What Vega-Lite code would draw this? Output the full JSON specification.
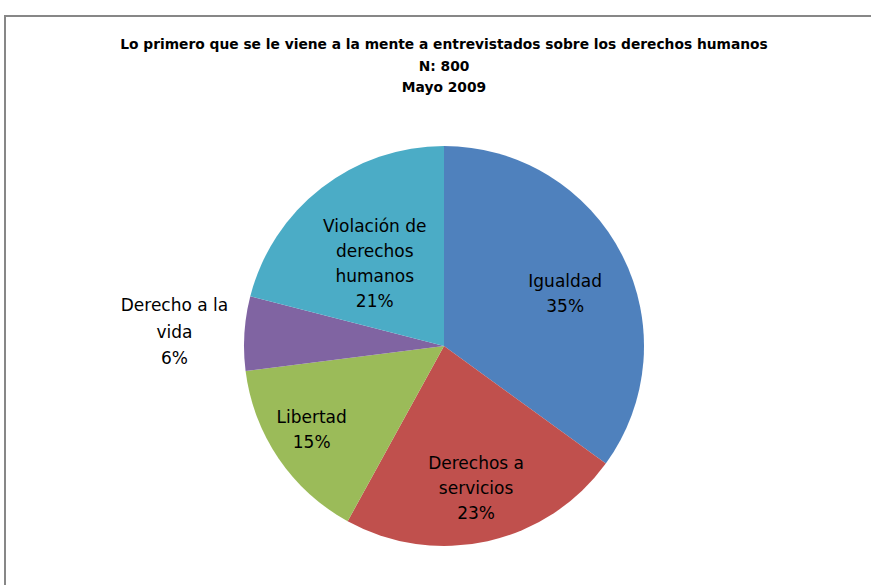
{
  "$schema": "https://vega.github.io/schema/vega-lite/v6.json",
  "autosize": {"type": "none"},
  "width": 878,
  "height": 660,
  "padding": {"left": 5, "top": 16, "right": -12, "bottom": -91},
  "background": "white",
  "view": {"stroke": "#878787", "strokeWidth": 2},
  "title": {
    "text": ["Lo primero que se le viene a la mente a entrevistados sobre los derechos humanos", "N: 800", "Mayo 2009"],
    "orient": "top",
    "anchor": "middle",
    "baseline": "top",
    "offset": -79,
    "font": "DejaVu Sans",
    "fontSize": 13.8,
    "fontWeight": "bold",
    "lineHeight": 21.5,
    "color": "#000000"
  },
  "data": {
    "values": [
      {"idx": 1, "cat": "Igualdad", "value": 35, "label": "Igualdad\n35%"},
      {"idx": 2, "cat": "Derechos a servicios", "value": 23, "label": "Derechos a\nservicios\n23%"},
      {"idx": 3, "cat": "Libertad", "value": 15, "label": "Libertad\n15%"},
      {"idx": 4, "cat": "Derecho a la vida", "value": 6, "label": "Derecho a la\nvida\n6%"},
      {"idx": 5, "cat": "Violación de derechos humanos", "value": 21, "label": "Violación de\nderechos\nhumanos\n21%"}
    ]
  },
  "encoding": {
    "theta": {"field": "value", "type": "quantitative", "stack": true},
    "order": {"field": "idx", "type": "quantitative"}
  },
  "layer": [
    {
      "mark": {"type": "arc", "outerRadius": 200},
      "encoding": {
        "color": {
          "field": "cat",
          "type": "nominal",
          "scale": {
            "domain": ["Igualdad", "Derechos a servicios", "Libertad", "Derecho a la vida", "Violación de derechos humanos"],
            "range": ["#4F81BD", "#C0504D", "#9BBB59", "#8064A2", "#4BACC6"]
          },
          "legend": null
        }
      }
    },
    {
      "mark": {"type": "text", "radius": 136, "dy": -2, "font": "DejaVu Sans", "fontSize": 17, "lineHeight": 25, "lineBreak": "\n", "color": "#000000", "baseline": "middle"},
      "encoding": {
        "detail": {"field": "cat", "type": "nominal"},
        "text": {"condition": {"test": "datum.cat === 'Igualdad'", "field": "label"}, "value": ""}
      }
    },
    {
      "mark": {"type": "text", "radius": 147, "dy": -25, "font": "DejaVu Sans", "fontSize": 17, "lineHeight": 25, "lineBreak": "\n", "color": "#000000", "baseline": "middle"},
      "encoding": {
        "detail": {"field": "cat", "type": "nominal"},
        "text": {"condition": {"test": "datum.cat === 'Derechos a servicios'", "field": "label"}, "value": ""}
      }
    },
    {
      "mark": {"type": "text", "radius": 160, "dy": -18, "font": "DejaVu Sans", "fontSize": 17, "lineHeight": 25, "lineBreak": "\n", "color": "#000000", "baseline": "middle"},
      "encoding": {
        "detail": {"field": "cat", "type": "nominal"},
        "text": {"condition": {"test": "datum.cat === 'Libertad'", "field": "label"}, "value": ""}
      }
    },
    {
      "mark": {"type": "text", "radius": 250, "dx": -20, "dy": -24, "font": "DejaVu Sans", "fontSize": 17, "lineHeight": 26.5, "lineBreak": "\n", "color": "#000000", "baseline": "middle"},
      "encoding": {
        "detail": {"field": "cat", "type": "nominal"},
        "text": {"condition": {"test": "datum.cat === 'Derecho a la vida'", "field": "label"}, "value": ""}
      }
    },
    {
      "mark": {"type": "text", "radius": 113, "dy": -30, "font": "DejaVu Sans", "fontSize": 17, "lineHeight": 25, "lineBreak": "\n", "color": "#000000", "baseline": "middle"},
      "encoding": {
        "detail": {"field": "cat", "type": "nominal"},
        "text": {"condition": {"test": "datum.cat === 'Violación de derechos humanos'", "field": "label"}, "value": ""}
      }
    }
  ]
}
